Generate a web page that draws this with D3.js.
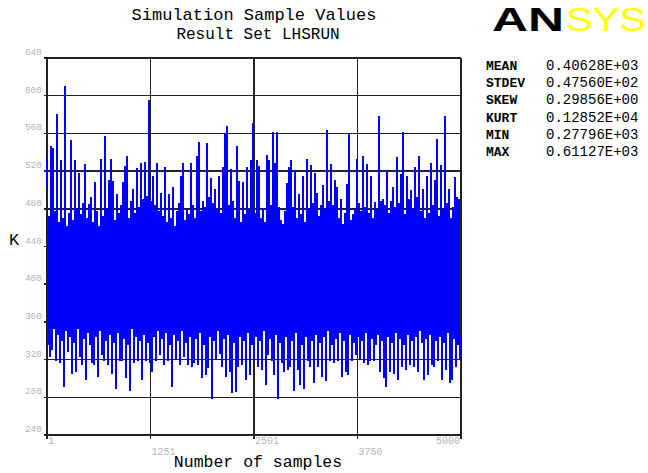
<!DOCTYPE html>
<html>
<head>
<meta charset="utf-8">
<script src="https://cdn.jsdelivr.net/npm/d3@7"></script>
<style>
  html, body { margin: 0; padding: 0; background: #fff; }
  svg { display: block; }
</style>
</head>
<body>
<div id="chart"></div>
<script>
// block maxima / minima of the 5000 samples (207 blocks)
const blockMax = [
  535, 472, 547, 544, 478, 581, 466, 532, 470, 610, 462, 476, 553, 468, 532, 480, 518, 474, 486, 528,
  470, 485, 492, 466, 508, 478, 462, 533, 472, 557, 480, 511, 533, 510, 468, 496, 476, 484, 508, 525,
  536, 470, 488, 501, 476, 523, 482, 529, 490, 530, 494, 595, 488, 515, 484, 529, 478, 497, 472, 524,
  466, 496, 470, 503, 462, 478, 486, 515, 529, 468, 480, 474, 529, 484, 470, 536, 551, 478, 488, 482,
  550, 492, 513, 486, 501, 480, 515, 476, 524, 560, 568, 484, 522, 488, 470, 547, 510, 466, 508, 474,
  524, 480, 532, 571, 476, 532, 525, 470, 480, 466, 537, 532, 484, 562, 529, 562, 482, 468, 464, 478,
  507, 524, 532, 482, 520, 470, 496, 474, 515, 466, 533, 480, 526, 486, 518, 497, 472, 484, 505, 480,
  564, 488, 527, 484, 511, 503, 470, 490, 464, 476, 506, 559, 468, 474, 480, 533, 486, 478, 536, 482,
  527, 476, 515, 470, 487, 480, 578, 488, 490, 484, 521, 476, 488, 503, 482, 535, 486, 517, 562, 474,
  515, 490, 500, 480, 524, 492, 536, 478, 501, 470, 515, 476, 529, 484, 511, 554, 472, 526, 480, 578,
  486, 501, 470, 482, 514, 493, 490
];
const blockMin = [
  335, 323, 330, 352, 318, 346, 316, 340, 291, 350, 328, 344, 305, 338, 307, 352, 323, 314, 342, 298,
  348, 336, 316, 314, 344, 302, 350, 325, 318, 340, 314, 346, 305, 338, 289, 348, 318, 319, 342, 300,
  336, 287, 352, 316, 344, 319, 340, 298, 346, 318, 338, 316, 307, 344, 318, 350, 325, 342, 314, 348,
  319, 336, 291, 346, 321, 340, 314, 350, 323, 338, 314, 344, 312, 316, 342, 314, 348, 300, 336, 304,
  311, 344, 278, 340, 321, 350, 326, 312, 342, 302, 346, 307, 285, 338, 286, 312, 344, 314, 340, 298,
  348, 304, 336, 321, 344, 312, 340, 309, 350, 293, 325, 342, 318, 304, 346, 278, 338, 316, 307, 344,
  309, 312, 340, 287, 348, 309, 293, 336, 289, 344, 318, 312, 340, 295, 346, 312, 338, 302, 344, 297,
  350, 318, 336, 316, 342, 318, 348, 302, 340, 307, 304, 346, 319, 338, 325, 344, 321, 340, 316, 348,
  314, 319, 342, 318, 336, 346, 307, 340, 300, 291, 344, 307, 338, 305, 348, 298, 342, 312, 336, 309,
  346, 314, 340, 312, 344, 307, 350, 338, 298, 342, 304, 346, 314, 312, 340, 318, 344, 298, 338, 309,
  348, 295, 298, 342, 312, 336, 321
];

const yTicks = [240, 280, 320, 360, 400, 440, 480, 520, 560, 600, 640];
const xTicks = [1, 1251, 2501, 3750, 5000];

const statNames = ['MEAN', 'STDEV', 'SKEW', 'KURT', 'MIN', 'MAX'];
const statValues = ['0.40628E+03', '0.47560E+02', '0.29856E+00', '0.12852E+04', '0.27796E+03', '0.61127E+03'];

const W = 648, H = 473;
const plotL = 47, plotR = 461, plotT = 58, plotB = 435;
const mono = "'Liberation Mono', 'DejaVu Sans Mono', monospace";

const svg = d3.select('#chart')
  .append('svg')
  .attr('width', W)
  .attr('height', H);

const x = d3.scaleLinear().domain([1, 5000]).range([plotL, plotR]);
const y = d3.scaleLinear().domain([240, 640]).range([plotB, plotT]);

// grid + frame (under the trace)
const grid = svg.append('g')
  .attr('stroke', '#222')
  .attr('stroke-width', 1.5)
  .attr('shape-rendering', 'crispEdges');

grid.selectAll('.hg')
  .data(yTicks)
  .join('line')
  .attr('x1', plotL - 3).attr('x2', plotR)
  .attr('y1', d => y(d)).attr('y2', d => y(d));

grid.selectAll('.vg')
  .data(xTicks)
  .join('line')
  .attr('x1', d => x(d)).attr('x2', d => x(d))
  .attr('y1', plotT).attr('y2', plotB + 4);

// the sample trace: max and min of each block, alternating
const step = 4999 / blockMax.length;
const pts = [];
blockMax.forEach((v, i) => {
  pts.push([1 + i * step, v]);
  pts.push([1 + (i + 0.5) * step, blockMin[i]]);
});

const line = d3.line()
  .x(d => x(d[0]))
  .y(d => y(d[1]));

svg.append('path')
  .datum(pts)
  .attr('fill', 'none')
  .attr('stroke', '#0000ff')
  .attr('stroke-width', 1.3)
  .attr('shape-rendering', 'crispEdges')
  .attr('d', line);

// y tick labels
svg.append('g')
  .selectAll('text')
  .data(yTicks)
  .join('text')
  .attr('x', plotL - 5)
  .attr('y', d => y(d) - 3)
  .attr('text-anchor', 'end')
  .attr('font-family', mono)
  .attr('font-size', 9.5)
  .attr('fill', '#b4b4b4')
  .text(d => d);

// x tick labels, staggered
svg.append('g')
  .selectAll('text')
  .data(xTicks)
  .join('text')
  .attr('x', (d, i) => i === xTicks.length - 1 ? x(d) - 1 : x(d) + 1)
  .attr('y', (d, i) => i % 2 ? 455 : 444)
  .attr('text-anchor', (d, i) => i === xTicks.length - 1 ? 'end' : 'start')
  .attr('font-family', mono)
  .attr('font-size', 10)
  .attr('fill', '#b4b4b4')
  .text(d => d);

// titles
svg.append('text')
  .attr('x', 254).attr('y', 20)
  .attr('text-anchor', 'middle')
  .attr('font-family', mono).attr('font-size', 17)
  .attr('fill', '#000')
  .text('Simulation Sample Values');

svg.append('text')
  .attr('x', 258).attr('y', 39)
  .attr('text-anchor', 'middle')
  .attr('font-family', mono).attr('font-size', 16)
  .attr('fill', '#000')
  .text('Result Set LHSRUN');

svg.append('text')
  .attr('x', 258).attr('y', 467)
  .attr('text-anchor', 'middle')
  .attr('font-family', mono).attr('font-size', 16.5)
  .attr('fill', '#000')
  .text('Number of samples');

svg.append('text')
  .attr('x', 9).attr('y', 245)
  .attr('font-family', mono).attr('font-size', 17)
  .attr('fill', '#000')
  .text('K');

// statistics
const stats = svg.append('g');
stats.selectAll('.sn')
  .data(statNames)
  .join('text')
  .attr('x', 486)
  .attr('y', (d, i) => 70 + i * 17.2)
  .attr('font-family', mono).attr('font-size', 13)
  .attr('font-weight', 'bold')
  .attr('fill', '#000')
  .text(d => d);

stats.selectAll('.sv')
  .data(statValues)
  .join('text')
  .attr('x', 546)
  .attr('y', (d, i) => 70 + i * 17.2)
  .attr('font-family', mono).attr('font-size', 14)
  .attr('fill', '#000')
  .text(d => d);

// logo
svg.append('text')
  .attr('x', 492).attr('y', 31)
  .attr('font-family', "'Liberation Sans', Arial, sans-serif")
  .attr('font-weight', 'bold')
  .attr('font-size', 34)
  .attr('textLength', 72)
  .attr('lengthAdjust', 'spacingAndGlyphs')
  .attr('fill', '#000')
  .text('AN');

svg.append('text')
  .attr('x', 566).attr('y', 31)
  .attr('font-family', "'Liberation Sans', Arial, sans-serif")
  .attr('font-size', 34)
  .attr('textLength', 80)
  .attr('lengthAdjust', 'spacingAndGlyphs')
  .attr('fill', '#ffff00')
  .text('SYS');
</script>
</body>
</html>
